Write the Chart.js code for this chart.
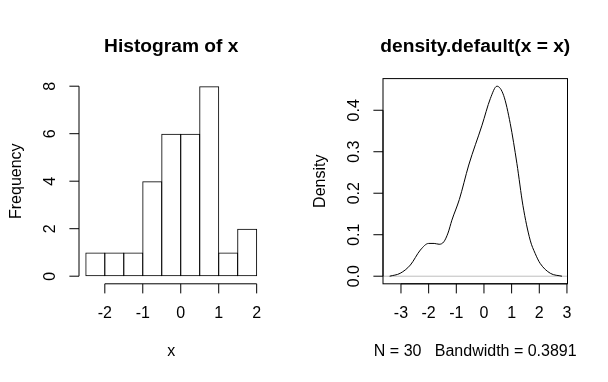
<!DOCTYPE html>
<html><head><meta charset="utf-8">
<script src="https://cdn.jsdelivr.net/npm/chart.js@4.4.1/dist/chart.umd.min.js"></script>
<style>
html,body{margin:0;padding:0;background:#fff;}
#wrap{position:relative;width:608px;height:382px;background:#fff;}
canvas{position:absolute;top:0;}
</style></head><body>
<div id="wrap">
<canvas id="c1" width="304" height="382" style="left:0;width:304px;height:382px"></canvas>
<canvas id="c2" width="304" height="382" style="left:304px;width:304px;height:382px"></canvas>
</div>
<script>
// ---- data ----
const histBreaks = [-2.5, -2, -1.5, -1, -0.5, 0, 0.5, 1, 1.5, 2];
const histCounts = [1, 1, 1, 4, 6, 6, 8, 1, 2];
const histXTicks = [-2, -1, 0, 1, 2];
const histXTickLabels = ['-2', '-1', '0', '1', '2'];
const histYTicks = [0, 2, 4, 6, 8];
const histYTickLabels = ['0', '2', '4', '6', '8'];
const histTitle = 'Histogram of x';
const histXLabel = 'x';
const histYLabel = 'Frequency';

const densX = [-3.41, -3.03, -2.66, -2.30, -2.00, -1.80, -1.62, -1.45, -1.30, -1.16, -0.89, -0.55, -0.07, 0.23, 0.47, 0.71, 0.95, 1.19, 1.41, 1.67, 1.85, 2.03, 2.40, 2.82];
const densY = [0.000, 0.007, 0.027, 0.063, 0.079, 0.079, 0.077, 0.083, 0.104, 0.135, 0.185, 0.268, 0.364, 0.428, 0.458, 0.436, 0.368, 0.272, 0.170, 0.087, 0.055, 0.031, 0.007, 0.000];
const densXTicks = [-3, -2, -1, 0, 1, 2, 3];
const densXTickLabels = ['-3', '-2', '-1', '0', '1', '2', '3'];
const densYTicks = [0, 0.1, 0.2, 0.3, 0.4];
const densYTickLabels = ['0.0', '0.1', '0.2', '0.3', '0.4'];
const densTitle = 'density.default(x = x)';
const densXLabel = 'N = 30   Bandwidth = 0.3891';
const densYLabel = 'Density';

// ---- R-like base graphics axes plugin ----
const FONT = '"Liberation Sans", Arial, Helvetica, sans-serif';
const TICK = 9.6;
const rAxes = {
  id: 'rAxes',
  beforeDatasetsDraw(chart, args, o) {
    if (!o.zeroLine) return;
    const ctx = chart.ctx, ca = chart.chartArea, ys = chart.scales.y;
    const p = ys.getPixelForValue(0);
    ctx.save();
    ctx.strokeStyle = '#bebebe'; ctx.lineWidth = 1;
    ctx.beginPath(); ctx.moveTo(ca.left, p); ctx.lineTo(ca.right, p); ctx.stroke();
    ctx.restore();
  },
  afterDraw(chart, args, o) {
    const ctx = chart.ctx, ca = chart.chartArea;
    const xs = chart.scales.x, ys = chart.scales.y;
    ctx.save();
    ctx.strokeStyle = '#000'; ctx.fillStyle = '#000'; ctx.lineWidth = 1;
    if (o.box) { ctx.strokeRect(ca.left, ca.top, ca.right - ca.left, ca.bottom - ca.top); }
    const xt = o.xTicks, yb = ca.bottom;
    ctx.beginPath();
    ctx.moveTo(xs.getPixelForValue(xt[0]), yb);
    ctx.lineTo(xs.getPixelForValue(xt[xt.length - 1]), yb);
    xt.forEach(v => { const p = xs.getPixelForValue(v); ctx.moveTo(p, yb); ctx.lineTo(p, yb + TICK); });
    const yt = o.yTicks, xl = ca.left;
    ctx.moveTo(xl, ys.getPixelForValue(yt[0]));
    ctx.lineTo(xl, ys.getPixelForValue(yt[yt.length - 1]));
    yt.forEach(v => { const p = ys.getPixelForValue(v); ctx.moveTo(xl, p); ctx.lineTo(xl - TICK, p); });
    ctx.stroke();
    ctx.font = '16px ' + FONT;
    ctx.textAlign = 'center'; ctx.textBaseline = 'alphabetic';
    xt.forEach((v, i) => ctx.fillText(o.xLabels[i], xs.getPixelForValue(v), 318));
    yt.forEach((v, i) => {
      ctx.save(); ctx.translate(xl - 24, ys.getPixelForValue(v)); ctx.rotate(-Math.PI / 2);
      ctx.fillText(o.yLabels[i], 0, 0); ctx.restore();
    });
    const cx = (ca.left + ca.right) / 2, cy = (ca.top + ca.bottom) / 2;
    ctx.fillText(o.xTitle, cx, 356);
    ctx.save(); ctx.translate(xl - 58.5, cy); ctx.rotate(-Math.PI / 2);
    ctx.fillText(o.yTitle, 0, 0); ctx.restore();
    ctx.font = 'bold 19.2px ' + FONT;
    ctx.fillText(o.title, cx, 52.3);
    ctx.restore();
  }
};

const common = {
  responsive: false,
  animation: false,
  devicePixelRatio: 1,
  events: [],
  layout: { padding: { left: 79, right: 40.5, top: 78.6, bottom: 98.2 } },
};

new Chart(document.getElementById('c1'), {
  type: 'bar',
  data: {
    datasets: [{
      data: histCounts.map((c, i) => ({ x: (histBreaks[i] + histBreaks[i + 1]) / 2, y: c })),
      backgroundColor: 'rgba(0,0,0,0)',
      borderColor: '#000',
      borderWidth: 1,
      borderSkipped: false,
      inflateAmount: 0,
      barPercentage: 1.053,
      categoryPercentage: 1
    }]
  },
  options: Object.assign({}, common, {
    scales: {
      x: { type: 'linear', display: false, offset: false, min: -2.68, max: 2.18 },
      y: { type: 'linear', display: false, min: -0.32, max: 8.32 }
    },
    plugins: {
      legend: { display: false }, tooltip: { enabled: false },
      rAxes: { box: false, zeroLine: false, xTicks: histXTicks, xLabels: histXTickLabels,
        yTicks: histYTicks, yLabels: histYTickLabels, title: histTitle, xTitle: histXLabel, yTitle: histYLabel }
    }
  }),
  plugins: [rAxes]
});

new Chart(document.getElementById('c2'), {
  type: 'line',
  data: {
    datasets: [{
      data: densX.map((x, i) => ({ x: x, y: densY[i] })),
      borderColor: '#000',
      borderWidth: 1,
      pointRadius: 0,
      fill: false,
      cubicInterpolationMode: 'monotone'
    }]
  },
  options: Object.assign({}, common, {
    scales: {
      x: { type: 'linear', display: false, min: -3.65, max: 3.02 },
      y: { type: 'linear', display: false, min: -0.0183, max: 0.4763 }
    },
    plugins: {
      legend: { display: false }, tooltip: { enabled: false },
      rAxes: { box: true, zeroLine: true, xTicks: densXTicks, xLabels: densXTickLabels,
        yTicks: densYTicks, yLabels: densYTickLabels, title: densTitle, xTitle: densXLabel, yTitle: densYLabel }
    }
  }),
  plugins: [rAxes]
});
</script>
</body></html>
